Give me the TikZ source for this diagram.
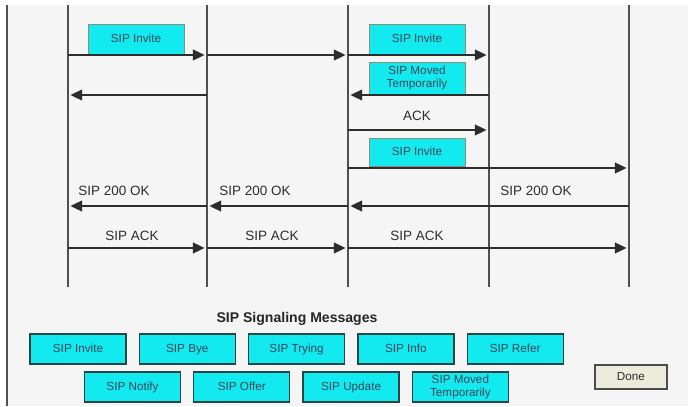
\documentclass[tikz,border=0pt]{standalone}
\usepackage{fontspec}
\setmainfont{Liberation Sans}
\usetikzlibrary{
  arrows.meta,
  positioning
}
\definecolor{panelgray}{RGB}{245,245,245}
\definecolor{linegray}{RGB}{80,80,80}
\definecolor{arrowgray}{RGB}{45,45,45}
\definecolor{sipcyan}{RGB}{18,234,240}
\definecolor{boxedge}{RGB}{40,70,70}
\definecolor{boxtext}{RGB}{55,70,90}
\definecolor{donefill}{RGB}{236,235,220}
\tikzset{
  >={Triangle[length=10pt,width=9pt]},
  lifeline/.style={line width=1.2pt, draw=linegray},
  msg/.style={->, line width=1.8pt, draw=arrowgray, shorten >=2pt},
  oneline/.style={text height=1.6ex, text depth=0.45ex},
  flowbox/.style={draw=gray!80!olive, line width=0.5pt, fill=sipcyan,
    minimum width=2.88cm, minimum height=0.9cm, inner sep=1pt,
    align=center, text=boxtext, font=\fontsize{10}{10.5}\selectfont},
  msgtext/.style={text=arrowgray, font=\fontsize{11.5}{13}\selectfont},
  sigbase/.style={draw=boxedge, line width=1.1pt, fill=sipcyan,
    minimum width=2.88cm, minimum height=0.9cm, inner sep=1pt,
    align=center, text=boxtext, font=\fontsize{10}{10.5}\selectfont},
  sigbtn/.style={sigbase, oneline},
  donebtn/.style={draw=gray!60!black, line width=1pt, fill=donefill,
    minimum width=2.16cm, minimum height=0.72cm, text=arrowgray,
    font=\fontsize{10}{12}\selectfont}
}
\begin{document}
\begin{tikzpicture}[x=0.03cm, y=-0.03cm]
  % panel
  \fill[white] (0,0) rectangle (688,406);
  \fill[panelgray] (7,5) rectangle (688,406);
  \draw[linegray, line width=1pt] (7,5) -- (7,406);

  % lifelines
  \foreach \x [count=\i] in {68,207,348,489,629} {
    \coordinate (top\i) at (\x,5);
    \coordinate (bot\i) at (\x,287);
    \draw[lifeline] (top\i) -- (bot\i);
  }
  \foreach \y [count=\j] in {55,95,130,168,206,248}
    \coordinate (row\j) at (0,\y);

  % message boxes and labels
  \node[flowbox, oneline] (inv1) at (136,39)  {SIP Invite};
  \node[flowbox, oneline] (inv2) at (417,39)  {SIP Invite};
  \node[flowbox, minimum height=0.96cm] (moved) at (417,78) {SIP Moved\\Temporarily};
  \node[msgtext] (ack)  at (417,116) {ACK};
  \node[flowbox, oneline, minimum height=0.84cm] (inv3) at (417,152) {SIP Invite};
  \node[msgtext] (ok1) at (114,191) {SIP 200 OK};
  \node[msgtext] (ok2) at (255,191) {SIP 200 OK};
  \node[msgtext] (ok3) at (536,191) {SIP 200 OK};
  \node[msgtext] (sack1) at (132,236) {SIP ACK};
  \node[msgtext] (sack2) at (272,236) {SIP ACK};
  \node[msgtext] (sack3) at (417,236) {SIP ACK};

  % messages
  \draw[msg] (top1 |- row1) -- (top2 |- row1);
  \draw[msg] (top2 |- row1) -- (top3 |- row1);
  \draw[msg] (top3 |- row1) -- (top4 |- row1);
  \draw[msg] (top2 |- row2) -- (top1 |- row2);
  \draw[msg] (top4 |- row2) -- (top3 |- row2);
  \draw[msg] (top3 |- row3) -- (top4 |- row3);
  \draw[msg] (top3 |- row4) -- (top5 |- row4);
  \draw[msg] (top2 |- row5) -- (top1 |- row5);
  \draw[msg] (top3 |- row5) -- (top2 |- row5);
  \draw[msg] (top5 |- row5) -- (top3 |- row5);
  \draw[msg] (top1 |- row6) -- (top2 |- row6);
  \draw[msg] (top2 |- row6) -- (top3 |- row6);
  \draw[msg] (top3 |- row6) -- (top5 |- row6);

  % palette
  \node[font=\bfseries\fontsize{12}{14}\selectfont, text=black!85] (title) at (297,319) {SIP Signaling Messages};
  \node[sigbtn] (pInvite) at (78,349) {SIP Invite};
  \node[sigbtn, right=0.36cm of pInvite] (pBye)    {SIP Bye};
  \node[sigbtn, right=0.36cm of pBye]    (pTrying) {SIP Trying};
  \node[sigbtn, right=0.36cm of pTrying] (pInfo)   {SIP Info};
  \node[sigbtn, right=0.36cm of pInfo]   (pRefer)  {SIP Refer};
  \node[sigbtn] (pNotify) at (132.5,387) {SIP Notify};
  \node[sigbtn, right=0.36cm of pNotify] (pOffer)  {SIP Offer};
  \node[sigbtn, right=0.36cm of pOffer]  (pUpdate) {SIP Update};
  \node[sigbase, right=0.36cm of pUpdate] (pMoved) {SIP Moved\\Temporarily};
  \node[donebtn] (done) at (631,377) {Done};
\end{tikzpicture}
\end{document}
